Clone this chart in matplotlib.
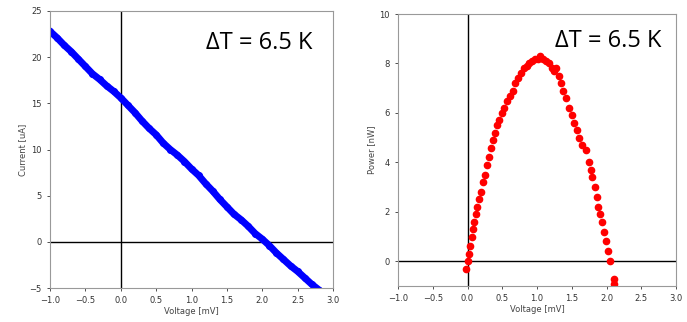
import numpy as np
from matplotlib import pyplot as plt

# I-V curve
volt_iv = [-1.0, -0.9, -0.8, -0.7, -0.6, -0.5, -0.4, -0.3, -0.2, -0.1,
           0.0, 0.1, 0.2, 0.3, 0.4, 0.5, 0.6, 0.7, 0.8, 0.9,
           1.0, 1.1, 1.2, 1.3, 1.4, 1.5, 1.6, 1.7, 1.8, 1.9,
           2.0, 2.1, 2.2, 2.3, 2.4, 2.5, 2.6, 2.7, 2.8]
current = [22.8, 22.1, 21.3, 20.6, 19.8, 19.0, 18.2, 17.6, 16.9, 16.3,
           15.6, 14.8, 14.0, 13.1, 12.3, 11.6, 10.7, 10.0, 9.4, 8.7,
           7.9, 7.2, 6.3, 5.5, 4.6, 3.8, 3.0, 2.4, 1.7, 0.9,
           0.3, -0.4, -1.2, -1.9, -2.6, -3.2, -3.9, -4.6, -5.2]

# P-V curve
volt_pv = [-0.02, 0.0, 0.02, 0.04, 0.06, 0.08, 0.10, 0.12, 0.14, 0.16,
           0.19, 0.22, 0.25, 0.28, 0.31, 0.34, 0.37, 0.40, 0.43, 0.46,
           0.50, 0.53, 0.57, 0.61, 0.65, 0.69, 0.73, 0.77, 0.81, 0.85,
           0.89, 0.93, 0.97, 1.01, 1.05, 1.09, 1.13, 1.17, 1.21, 1.25,
           1.28, 1.31, 1.34, 1.38, 1.42, 1.46, 1.50, 1.53, 1.57, 1.61,
           1.65, 1.70, 1.75, 1.77, 1.79, 1.83, 1.86, 1.88, 1.91, 1.94,
           1.96, 1.99, 2.02, 2.05, 2.11, 2.11]
power = [-0.3, 0.0, 0.3, 0.6, 1.0, 1.3, 1.6, 1.9, 2.2, 2.5,
         2.8, 3.2, 3.5, 3.9, 4.2, 4.6, 4.9, 5.2, 5.5, 5.7,
         6.0, 6.2, 6.5, 6.7, 6.9, 7.2, 7.4, 7.6, 7.8, 7.9,
         8.0, 8.1, 8.2, 8.2, 8.3, 8.2, 8.1, 8.0, 7.8, 7.7,
         7.8, 7.5, 7.2, 6.9, 6.6, 6.2, 5.9, 5.6, 5.3, 5.0,
         4.7, 4.5, 4.0, 3.7, 3.4, 3.0, 2.6, 2.2, 1.9, 1.6,
         1.2, 0.8, 0.4, 0.0, -0.7, -0.9]

label_dT = '\u0394T = 6.5 K'

fig = plt.figure(figsize=(6.87, 3.22), dpi=100)
ax1 = fig.add_axes([50/687, 34/322, 283/687, 277/322])
ax2 = fig.add_axes([398/687, 36/322, 278/687, 272/322])

for ax in (ax1, ax2):
    ax.axhline(0, color='black', lw=1)
    ax.axvline(0, color='black', lw=1)
    ax.tick_params(labelsize=6, length=2.5, width=0.6, colors='#333333')
    for sp in ax.spines.values():
        sp.set_color('#999999')
    ax.set_xlim(-1, 3)
    ax.set_xticks(np.arange(-1.0, 3.01, 0.5))
    ax.set_xlabel('Voltage [mV]', fontsize=6, color='#444444', labelpad=1)

ax1.plot(volt_iv, current, 'o-', color='blue', ms=4, lw=5)
ax1.set_ylim(-5, 25)
ax1.set_ylabel('Current [uA]', fontsize=6, color='#444444', labelpad=2)
ax1.text(0.55, 0.885, label_dT, transform=ax1.transAxes, fontsize=17,
         va='center', ha='left', family='Open Sans')

ax2.plot(volt_pv, power, 'o', color='red', ms=4.5)
ax2.set_ylim(-1, 10)
ax2.set_ylabel('Power [nW]', fontsize=6, color='#444444', labelpad=2)
ax2.text(0.565, 0.9, label_dT, transform=ax2.transAxes, fontsize=17,
         va='center', ha='left', family='Open Sans')

plt.savefig('out.png', dpi=100)
